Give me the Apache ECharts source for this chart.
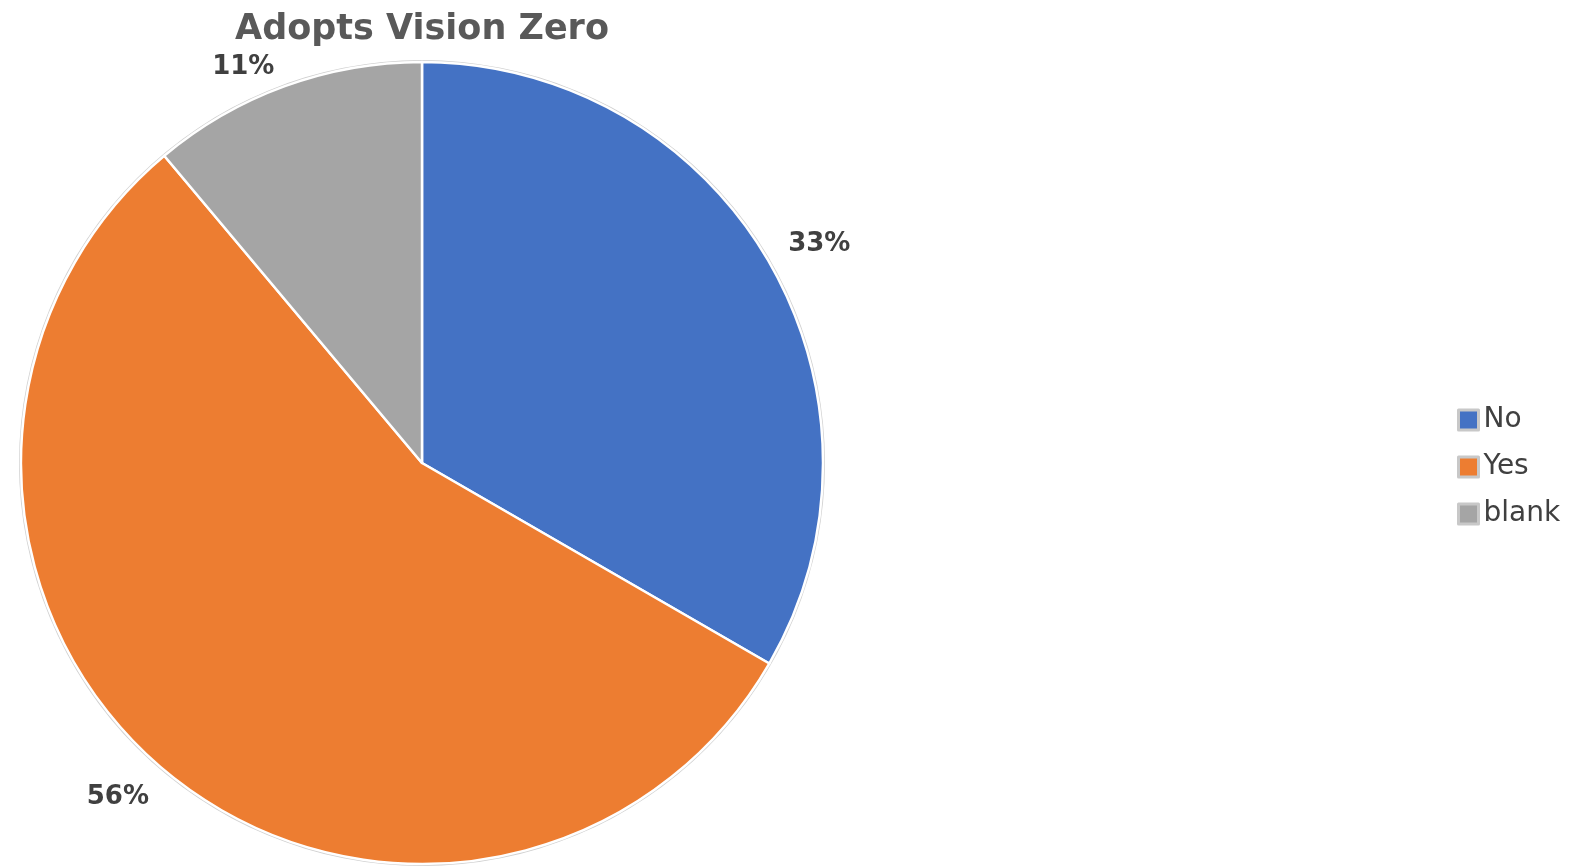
<!DOCTYPE html>
<html>
<head>
<meta charset="utf-8">
<script src="https://cdn.jsdelivr.net/npm/echarts@6/dist/echarts.min.js"></script>
<style>
html,body{margin:0;padding:0;background:#fff;}
#chart{width:1589px;height:867px;}
</style>
</head>
<body>
<div id="chart"></div>
<script>
const titleText = 'Adopts Vision Zero';
const categories = ['No', 'Yes', 'blank'];
const values = [3, 5, 1];
const labels = ['33%', '56%', '11%'];
const colors = ['#4472C4', '#ED7D31', '#A5A5A5'];
const labelNudge = [-10, 15, -4];

const chart = echarts.init(document.getElementById('chart'));
chart.setOption({
  backgroundColor: '#ffffff',
  animation: false,
  title: {
    text: titleText,
    left: 417,
    top: 7,
    textAlign: 'center',
    textStyle: { fontFamily: 'DejaVu Sans', fontWeight: 'bold', fontSize: 35, color: '#595959' }
  },
  legend: {
    orient: 'vertical',
    left: 1452,
    top: 401,
    itemWidth: 20,
    itemHeight: 20,
    itemGap: 19,
    icon: 'rect',
    textStyle: { fontFamily: 'DejaVu Sans', fontSize: 28, lineHeight: 28, color: '#404040' },
    data: categories.map((c, i) => ({ name: c, itemStyle: { color: colors[i], borderColor: '#c8c8c8', borderWidth: 3 } }))
  },
  series: [{
    type: 'pie',
    silent: true,
    center: [422, 463],
    radius: [400, 403],
    startAngle: 90,
    label: { show: false },
    labelLine: { show: false },
    itemStyle: { color: '#d0d0d0' },
    data: [{ name: 'rim', value: 1 }]
  }, {
    type: 'pie',
    center: [422, 463],
    radius: 401,
    startAngle: 90,
    clockwise: true,
    avoidLabelOverlap: false,
    itemStyle: { borderColor: '#ffffff', borderWidth: 2.5 },
    label: {
      show: true,
      position: 'outside',
      fontFamily: 'DejaVu Sans',
      fontWeight: 'bold',
      fontSize: 26,
      color: '#404040',
      formatter: (p) => labels[p.dataIndex]
    },
    labelLine: { show: false, length: 16, length2: 0 },
    labelLayout: (p) => ({ dy: labelNudge[p.dataIndex] }),
    emphasis: { disabled: true },
    data: categories.map((c, i) => ({ name: c, value: values[i], itemStyle: { color: colors[i] } }))
  }]
});
</script>
</body>
</html>
